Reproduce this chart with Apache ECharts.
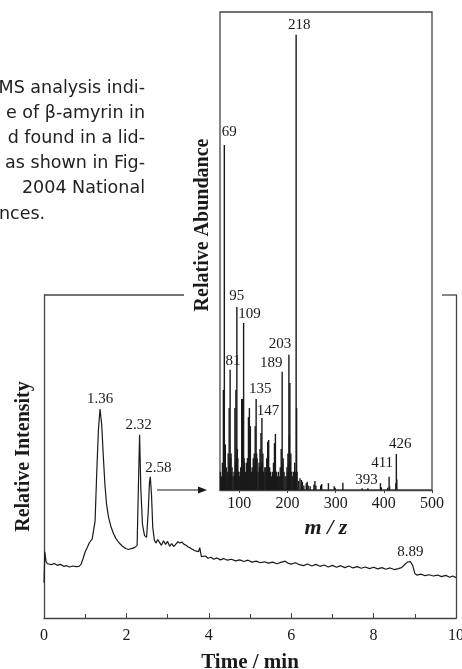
<!DOCTYPE html>
<html>
<head>
<meta charset="utf-8">
<script src="https://cdn.jsdelivr.net/npm/echarts@6/dist/echarts.min.js"></script>
<style>
  html, body { margin: 0; padding: 0; background: #fff; }
  #chart { width: 462px; height: 669px; }
</style>
</head>
<body>
<div id="chart"></div>
<script>
// chromatogram (time in min, relative intensity)
let times = [
  0.00, 0.02, 0.05, 0.08, 0.12, 0.18, 0.25, 0.32, 0.40, 0.48, 0.55, 0.62, 0.70, 0.78, 0.85, 0.90,
  0.95, 1.00, 1.05, 1.10, 1.13, 1.17, 1.20, 1.24, 1.28, 1.32, 1.36, 1.40, 1.44, 1.48, 1.52, 1.57,
  1.62, 1.68, 1.75, 1.82, 1.90, 1.98, 2.05, 2.12, 2.20, 2.26, 2.29, 2.32, 2.35, 2.39, 2.44, 2.49,
  2.53, 2.56, 2.58, 2.61, 2.64, 2.68, 2.72, 2.76, 2.80, 2.85, 2.90, 2.95, 3.00, 3.05, 3.10, 3.15,
  3.20, 3.25, 3.30, 3.35, 3.40, 3.45, 3.50, 3.55, 3.60, 3.65, 3.70, 3.75, 3.78, 3.82, 3.86, 3.92,
  3.98, 4.05, 4.12, 4.20, 4.28, 4.36, 4.45, 4.55, 4.65, 4.75, 4.85, 4.95, 5.05, 5.15, 5.25, 5.35,
  5.45, 5.55, 5.65, 5.75, 5.85, 5.92, 6.00, 6.10, 6.20, 6.30, 6.40, 6.50, 6.60, 6.70, 6.80, 6.90,
  7.00, 7.10, 7.20, 7.30, 7.40, 7.50, 7.60, 7.70, 7.80, 7.90, 8.00, 8.10, 8.20, 8.30, 8.40, 8.50,
  8.60, 8.68, 8.75, 8.82, 8.89, 8.95, 9.00, 9.05, 9.15, 9.25, 9.35, 9.45, 9.55, 9.65, 9.75, 9.85,
  9.92, 10.00
];
let intensity = [
  11.0, 20.5, 17.5, 16.8, 17.2, 16.5, 16.9, 16.3, 16.6, 16.0, 16.2, 15.8, 16.1, 15.9, 16.0, 16.6,
  18.5, 20.5, 21.8, 23.3, 22.8, 24.5, 25.0, 30.0, 45.0, 58.0, 64.7, 60.0, 50.0, 41.0, 35.0, 31.0,
  28.5, 26.3, 24.5, 23.3, 22.3, 21.5, 21.2, 21.5, 21.8, 22.5, 40.0, 56.7, 40.0, 29.0, 25.5, 25.0,
  33.0, 42.0, 43.7, 38.0, 28.0, 24.0, 23.2, 24.3, 23.5, 22.5, 23.9, 22.8, 23.7, 22.2, 23.0, 22.1,
  22.9, 23.6, 23.2, 23.5, 22.8, 22.5, 22.0, 21.7, 21.3, 20.9, 20.7, 20.5, 21.8, 19.0, 18.6, 19.2,
  18.5, 18.8, 18.2, 18.6, 18.0, 18.4, 17.9, 18.2, 17.7, 18.0, 17.5, 17.9, 17.3, 17.6, 17.1, 17.4,
  17.0, 17.3, 16.8, 17.2, 17.6, 17.0, 16.7, 17.1, 16.5, 16.2, 16.7, 16.1, 16.6, 16.0, 16.4, 15.8,
  16.3, 15.7, 16.2, 15.6, 16.1, 15.5, 15.9, 15.4, 15.8, 15.3, 15.7, 15.2, 15.6, 15.1, 15.5, 15.0,
  15.3, 15.6, 16.5, 17.3, 17.5, 16.2, 13.8, 13.3, 13.6, 13.1, 13.4, 13.0, 13.3, 12.8, 13.2, 12.6,
  13.0, 12.5
];
let peakTimes = [1.36, 2.32, 2.58, 8.89];

// mass spectrum of the 2.58 min peak (m/z, relative abundance)
let mz = [
  61, 62, 63, 65, 66, 67, 68, 69, 70, 71, 73, 74, 75, 77, 78, 79, 80, 81, 82, 83,
  84, 85, 87, 89, 90, 91, 92, 93, 94, 95, 96, 97, 98, 99, 101, 102, 103, 104, 105, 106,
  107, 108, 109, 110, 111, 113, 115, 116, 117, 118, 119, 120, 121, 122, 123, 124, 125, 127, 128, 129,
  131, 132, 133, 134, 135, 136, 137, 139, 141, 142, 143, 144, 145, 146, 147, 148, 149, 150, 151, 153,
  155, 156, 157, 158, 159, 160, 161, 162, 163, 165, 167, 169, 170, 171, 172, 173, 174, 175, 176, 177,
  179, 181, 183, 185, 186, 187, 188, 189, 190, 191, 193, 195, 197, 199, 200, 201, 202, 203, 204, 205,
  206, 207, 209, 211, 213, 215, 217, 218, 219, 220, 223, 226, 229, 231, 234, 239, 241, 243, 247, 255,
  257, 259, 269, 271, 285, 297, 299, 315, 355, 367, 393, 395, 408, 411, 412, 425, 426, 427
];
let abundance = [
  4, 2, 3, 6, 3, 22, 5, 75.8, 6, 10, 5, 3, 4, 8, 4, 18, 6, 26.4, 7, 8,
  4, 5, 3, 4, 3, 18, 6, 22, 7, 40.2, 9, 7, 4, 4, 3, 4, 5, 4, 20, 9,
  20, 8, 36.7, 7, 6, 4, 6, 4, 7, 5, 16, 8, 18, 9, 14, 5, 4, 4, 5, 7,
  8, 6, 14, 7, 20, 8, 7, 4, 6, 5, 9, 5, 12.5, 6, 15.8, 6, 8, 4, 4, 5,
  5, 4, 7, 4, 10.6, 5, 11, 4, 5, 4, 3, 4, 3, 6, 3, 10.3, 5, 12.3, 4, 4,
  3, 4, 3, 5, 3, 9, 5, 26, 6, 7, 4, 3, 3, 5, 4, 8, 6, 29.7, 12, 23.5,
  6, 8, 4, 3, 4, 6, 4, 100, 18, 4, 2, 2.6, 2.2, 1.8, 1, 1.5, 1.8, 1, 0.8, 1.2,
  2, 1, 1, 1.3, 1.5, 0.8, 0.5, 1.6, 0.4, 0.4, 1.5, 0.6, 0.5, 2.9, 0.8, 1.5, 7.9, 2.3
];
let labelledMz = [69, 81, 95, 109, 135, 147, 189, 203, 218, 393, 411, 426];
let mzTicks = [100, 200, 300, 400, 500];

let paragraph = [
  "MS analysis indi-",
  "e of \u03b2-amyrin in",
  "d found in a lid-",
  "as shown in Fig-",
  "2004 National",
  "nces."
];

let serif = "Liberation Serif";
let ink = "#1a1a1a";
let frame = "#444";

// label nudges for the labelled peaks (px)
let mzLabelOffset = {
  69: [5, -5], 81: [3, -1], 95: [0, -3], 109: [6, -1], 135: [4, -2], 147: [6, 0],
  189: [-11, -1], 203: [-9, -3], 218: [3, -2], 393: [-14, 4], 411: [-7, -6], 426: [4, -2]
};
let timeLabelOffset = { 1.36: [0, -2], 2.32: [-1, -2], 2.58: [8, -1], 8.89: [0, -2] };

let chromData = times.map(function (t, i) { return [t, intensity[i]]; });

let peakData = peakTimes.map(function (t) {
  return {
    value: [t, intensity[times.indexOf(t)]],
    label: { offset: timeLabelOffset[t], formatter: t.toFixed(2) }
  };
});

let specData = mz.map(function (m, i) {
  let item = { value: [m, abundance[i]] };
  if (labelledMz.indexOf(m) >= 0) {
    item.label = {
      show: true, position: "top", distance: 0,
      offset: mzLabelOffset[m],
      formatter: String(m)
    };
  }
  return item;
});

// grids in px
let main = { left: 44, top: 295, right: 456, bottom: 618 };
let inset = { left: 220, top: 12, right: 432, bottom: 490 };

let graphics = [];
paragraph.forEach(function (line, i) {
  let last = i === paragraph.length - 1;
  graphics.push({
    type: "text",
    x: last ? -1 : 145,
    y: 88 + i * 25.2,
    style: {
      text: line,
      font: "17.5px 'DejaVu Sans'",
      fill: "#222",
      align: last ? "left" : "right",
      verticalAlign: "middle"
    }
  });
});
// top edge of the main frame, broken by the inset
graphics.push({
  type: "line", shape: { x1: main.left, y1: main.top, x2: 184, y2: main.top },
  style: { stroke: frame, lineWidth: 1.3 }
});
graphics.push({
  type: "line", shape: { x1: 442, y1: main.top, x2: main.right, y2: main.top },
  style: { stroke: frame, lineWidth: 1.3 }
});
// arrow from the 2.58 peak to the inset
graphics.push({
  type: "line", shape: { x1: 157, y1: 490, x2: 200, y2: 490 },
  style: { stroke: ink, lineWidth: 1.2 }
});
graphics.push({
  type: "polygon", shape: { points: [[207, 490], [198, 486.5], [198, 493.5]] },
  style: { fill: ink }
});

let chart = echarts.init(document.getElementById("chart"), null, { renderer: "canvas" });

let option = {
  animation: false,
  backgroundColor: "#fff",
  textStyle: { fontFamily: serif, color: ink },
  grid: [
    {
      left: main.left, top: main.top, width: main.right - main.left, height: main.bottom - main.top,
      show: false, containLabel: false, outerBoundsMode: "none"
    },
    {
      left: inset.left, top: inset.top, width: inset.right - inset.left, height: inset.bottom - inset.top,
      show: true, borderColor: frame, borderWidth: 1.3, backgroundColor: "rgba(255,255,255,0)",
      containLabel: false, outerBoundsMode: "none"
    }
  ],
  xAxis: [
    {
      gridIndex: 0, type: "value", min: 0, max: 10, interval: 2,
      name: "Time / min", nameLocation: "middle", nameGap: 34,
      nameTextStyle: { fontFamily: serif, fontSize: 21, fontWeight: "bold", color: ink },
      axisLine: { show: true, lineStyle: { color: frame, width: 1.3 } },
      axisTick: { show: true, inside: true, length: 5, lineStyle: { color: frame } },
      minorTick: { show: true, splitNumber: 2, length: 4, lineStyle: { color: frame } },
      axisLabel: {
        fontFamily: serif, fontSize: 16, color: ink, margin: 10,
        showMinLabel: true, showMaxLabel: true
      },
      splitLine: { show: false }
    },
    {
      gridIndex: 1, type: "value", min: 60, max: 500,
      name: "m / z", nameLocation: "middle", nameGap: 22,
      nameTextStyle: { fontFamily: serif, fontSize: 22, fontWeight: "bold", fontStyle: "italic", color: ink },
      axisLine: { show: true, onZero: false, lineStyle: { color: frame, width: 1.3 } },
      axisTick: { show: true, length: 3, customValues: mzTicks, lineStyle: { color: frame } },
      axisLabel: { fontFamily: serif, fontSize: 16, color: ink, margin: 6, customValues: mzTicks },
      splitLine: { show: false }
    }
  ],
  yAxis: [
    {
      gridIndex: 0, type: "value", min: 0, max: 100,
      name: "Relative Intensity", nameLocation: "middle", nameGap: 10,
      nameTextStyle: { fontFamily: serif, fontSize: 20, fontWeight: "bold", color: ink },
      axisLine: { show: true, lineStyle: { color: frame, width: 1.3 } },
      axisTick: { show: false }, axisLabel: { show: false }, splitLine: { show: false }
    },
    {
      gridIndex: 0, type: "value", min: 0, max: 100, position: "right",
      axisLine: { show: true, lineStyle: { color: frame, width: 1.3 } },
      axisTick: { show: false }, axisLabel: { show: false }, splitLine: { show: false }
    },
    {
      gridIndex: 1, type: "value", min: 0, max: 105,
      name: "Relative Abundance", nameLocation: "middle", nameGap: 7,
      nameTextStyle: { fontFamily: serif, fontSize: 20, fontWeight: "bold", color: ink, padding: [0, 0, 0, 52] },
      axisLine: { show: false },
      axisTick: { show: false }, axisLabel: { show: false }, splitLine: { show: false }
    }
  ],
  graphic: graphics,
  series: [
    {
      type: "line", xAxisIndex: 0, yAxisIndex: 0,
      data: chromData, showSymbol: false, symbol: "none",
      lineStyle: { color: ink, width: 1.2 }
    },
    {
      type: "scatter", xAxisIndex: 0, yAxisIndex: 0,
      data: peakData, symbolSize: 0, silent: true,
      itemStyle: { opacity: 1, color: ink },
      label: { show: true, position: "top", distance: 0, fontFamily: serif, fontSize: 15, color: ink }
    },
    {
      type: "bar", xAxisIndex: 1, yAxisIndex: 2,
      data: specData, barWidth: 1.4,
      itemStyle: { color: ink },
      label: { fontFamily: serif, fontSize: 15, color: ink }
    }
  ]
};

chart.setOption(option);
</script>
</body>
</html>
